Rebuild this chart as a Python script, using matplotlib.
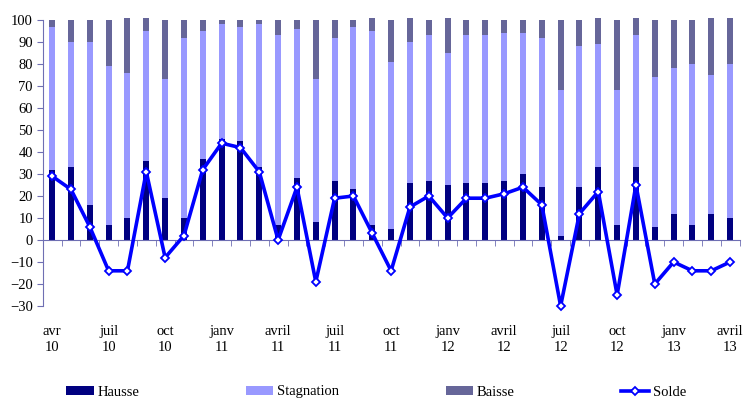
import numpy as np
import matplotlib
matplotlib.use("Agg")
import matplotlib.pyplot as plt

# Données mensuelles (avr 2010 -> avr 2013), en %
hausse = [32, 33, 16, 7, 10, 36, 19, 10, 37, 46, 45, 33, 7, 28, 8, 27, 23, 7, 5,
          26, 27, 25, 26, 26, 27, 30, 24, 2, 24, 33, 7, 33, 6, 12, 7, 12, 10]
stagnation = [65, 57, 74, 72, 66, 59, 54, 82, 58, 52, 52, 65, 86, 68, 65, 65, 74, 88, 76,
              64, 66, 60, 67, 67, 67, 64, 68, 66, 64, 56, 61, 60, 68, 66, 73, 63, 70]
baisse = [3, 10, 10, 21, 25, 6, 27, 8, 5, 2, 3, 2, 7, 4, 27, 8, 3, 6, 19,
          11, 7, 16, 7, 7, 6, 6, 8, 32, 12, 12, 32, 8, 26, 22, 20, 26, 21]
solde = [29, 23, 6, -14, -14, 31, -8, 2, 32, 44, 42, 31, 0, 24, -19, 19, 20, 3, -14,
         15, 20, 10, 19, 19, 21, 24, 16, -30, 12, 22, -25, 25, -20, -10, -14, -14, -10]

mois = ["avr", "juil", "oct", "janv", "avril", "juil", "oct",
        "janv", "avril", "juil", "oct", "janv", "avril"]
annees = ["10", "10", "10", "11", "11", "11", "11", "12", "12", "12", "12", "13", "13"]

plt.rcParams["font.family"] = ["Liberation Serif", "DejaVu Serif"]
plt.rcParams["font.size"] = 10.5

c_axe = "#6f6fb3"
x = np.arange(len(hausse))
h = np.array(hausse)
s = np.array(stagnation)
b = np.array(baisse)

fig = plt.figure(figsize=(7.44, 4.0), dpi=100)
ax = fig.add_axes([0.0574, 0.235, 0.9366, 0.715])

w = 0.32
b1 = ax.bar(x, h, w, color="#000080", label="Hausse", clip_on=False, zorder=2)
b2 = ax.bar(x, s, w, bottom=h, color="#9999ff", label="Stagnation", clip_on=False, zorder=2)
b3 = ax.bar(x, b, w, bottom=h + s, color="#666699", label="Baisse", clip_on=False, zorder=2)
l1, = ax.plot(x, solde, color="#0000ff", lw=2.6, marker="D", ms=4.5, mfc="white",
              mec="#0000ff", mew=1.3, label="Solde", zorder=4, clip_on=False)

ax.set_xlim(-0.5, len(hausse) - 0.5)
ax.set_ylim(-30, 100)
ax.set_yticks(range(-30, 101, 10))

# axes
for sp in ["top", "right"]:
    ax.spines[sp].set_visible(False)
ax.spines["left"].set_color(c_axe)
ax.spines["bottom"].set_color(c_axe)
ax.spines["bottom"].set_position(("data", 0))
ax.spines["bottom"].set_zorder(3)

ax.set_xticks(x[::3])
ax.set_xticklabels([m + "\n" + a for m, a in zip(mois, annees)], linespacing=1.35)
ax.set_xticks(np.arange(-0.5, len(hausse), 1), minor=True)
ax.tick_params(axis="x", which="major", length=0, pad=61)
ax.tick_params(axis="x", which="minor", length=4, color=c_axe, direction="out")
ax.tick_params(axis="y", length=4, color=c_axe, pad=3)

fig.legend([b1, b2, b3, l1], ["Hausse", "Stagnation", "Baisse", "Solde"],
           loc="center", ncol=4, mode="expand", frameon=False,
           bbox_to_anchor=(66 / 744, 0.0, 620 / 744, 0.04),
           borderpad=0, borderaxespad=0, handlelength=1.9, handleheight=0.6,
           handletextpad=0.25)

fig.savefig("out.png", dpi=100)
